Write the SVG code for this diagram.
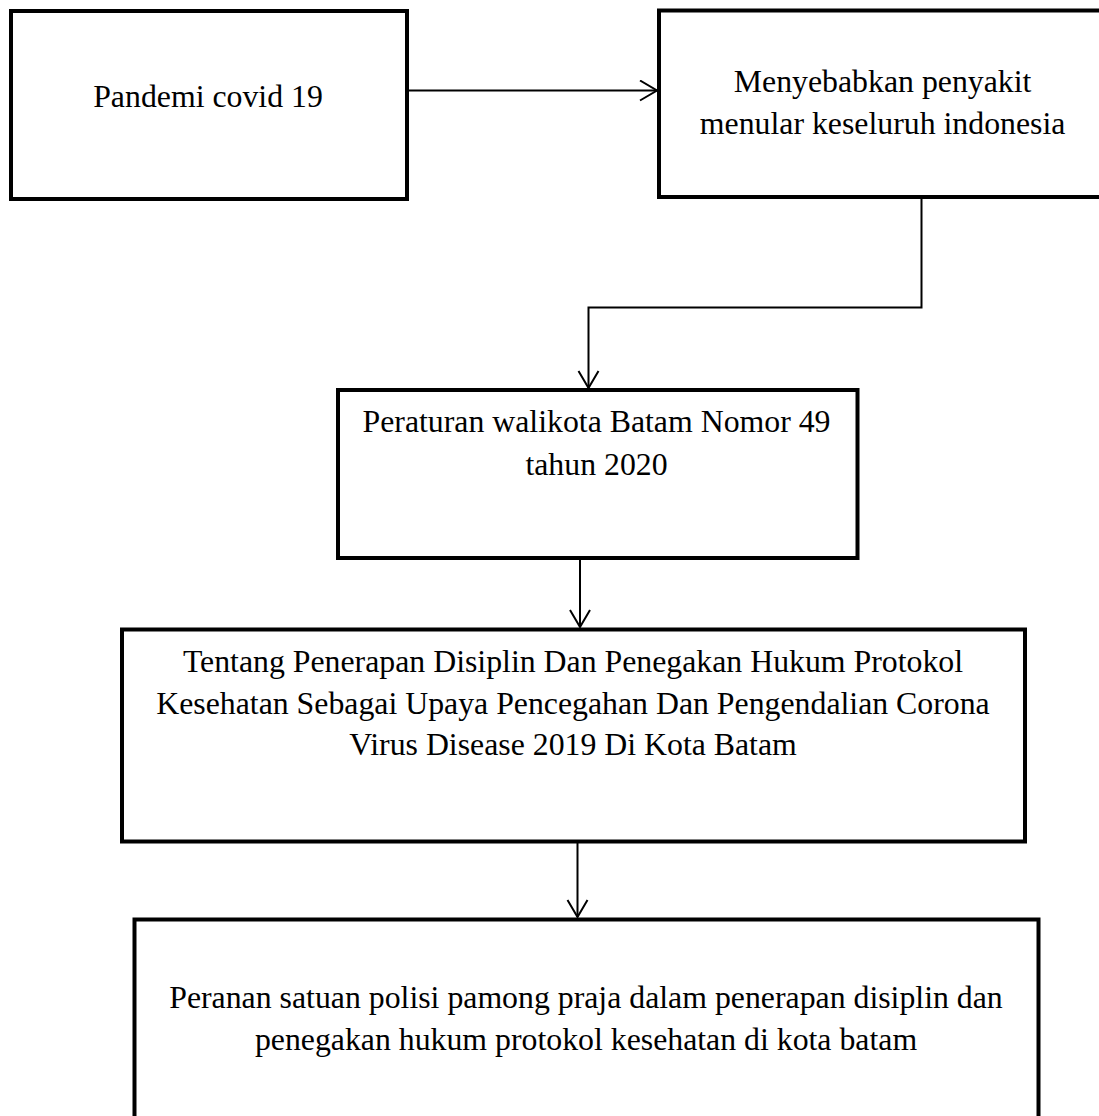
<svg xmlns="http://www.w3.org/2000/svg" width="1099" height="1116" viewBox="0 0 1099 1116">
<style>
  .box { fill: #ffffff; stroke: #000000; stroke-width: 4; }
  .lbl { font-family: "Liberation Serif", "Times New Roman", serif; font-size: 31.8px; fill: #000000; text-anchor: middle; }
  .conn { fill: none; stroke: #000000; stroke-width: 2; }
</style>
<defs>
  <marker id="arrow" markerUnits="userSpaceOnUse" markerWidth="22" markerHeight="24" refX="18" refY="11" orient="auto">
    <path d="M1,1 L18,11 L1,21" fill="none" stroke="#000000" stroke-width="2"/>
  </marker>
</defs>
<rect width="1099" height="1116" fill="#ffffff"/>

<g id="connectors">
  <line class="conn" x1="409" y1="90.5" x2="657" y2="90.5" marker-end="url(#arrow)"/>
  <polyline class="conn" points="921.5,199 921.5,307.5 588.5,307.5 588.5,388" marker-end="url(#arrow)"/>
  <line class="conn" x1="580" y1="560" x2="580" y2="627" marker-end="url(#arrow)"/>
  <line class="conn" x1="577.5" y1="843" x2="577.5" y2="917" marker-end="url(#arrow)"/>
</g>

<g id="node-pandemi">
  <rect class="box" x="11" y="11" width="396" height="188"/>
  <text class="lbl" x="208" y="106.5">Pandemi covid 19</text>
</g>

<g id="node-menyebabkan">
  <rect class="box" x="659" y="10.5" width="448" height="186.5"/>
  <text class="lbl" x="882.6" y="92">Menyebabkan penyakit</text>
  <text class="lbl" x="882.6" y="134">menular keseluruh indonesia</text>
</g>

<g id="node-peraturan">
  <rect class="box" x="338" y="390" width="519.5" height="168"/>
  <text class="lbl" x="596.5" y="432">Peraturan walikota Batam Nomor 49</text>
  <text class="lbl" x="596.5" y="475">tahun 2020</text>
</g>

<g id="node-tentang">
  <rect class="box" x="122" y="629.5" width="903" height="212"/>
  <text class="lbl" x="573" y="672">Tentang Penerapan Disiplin Dan Penegakan Hukum Protokol</text>
  <text class="lbl" x="573" y="713.5">Kesehatan Sebagai Upaya Pencegahan Dan Pengendalian Corona</text>
  <text class="lbl" x="573" y="755">Virus Disease 2019 Di Kota Batam</text>
</g>

<g id="node-peranan">
  <rect class="box" x="134.5" y="919.5" width="904" height="210"/>
  <text class="lbl" x="586" y="1008">Peranan satuan polisi pamong praja dalam penerapan disiplin dan</text>
  <text class="lbl" x="586" y="1050">penegakan hukum protokol kesehatan di kota batam</text>
</g>
</svg>
